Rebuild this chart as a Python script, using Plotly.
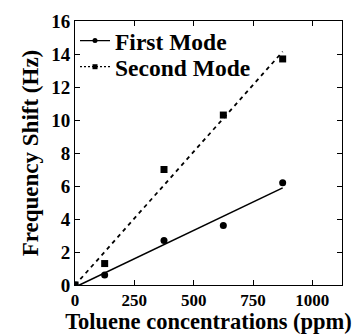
import numpy as np
import plotly.graph_objects as go

conc = [0, 125, 375, 625, 875]
first_mode = [0, 0.6, 2.7, 3.6, 6.2]
second_mode = [0, 1.3, 7.0, 10.3, 13.7]
x_ticks = [0, 250, 500, 750, 1000]
y_ticks = [0, 2, 4, 6, 8, 10, 12, 14, 16]

font = "Liberation Serif, Times New Roman, serif"

def fit(x, y):
    s, b = np.polyfit(x, y, 1)
    xs = [0, max(x)]
    return xs, [s * v + b for v in xs]

fig = go.Figure()
fx, fy = fit(conc, first_mode)
sx, sy = fit(conc, second_mode)

fig.add_trace(go.Scatter(x=fx, y=fy, mode="lines", line=dict(color="black", width=1.6), showlegend=False))
fig.add_trace(go.Scatter(x=sx, y=sy, mode="lines", line=dict(color="black", width=1.8, dash="4px,4px"), showlegend=False))
fig.add_trace(go.Scatter(x=conc, y=first_mode, mode="markers", marker=dict(symbol="circle", size=7, color="black"), showlegend=False))
fig.add_trace(go.Scatter(x=conc, y=second_mode, mode="markers", marker=dict(symbol="square", size=7, color="black"), showlegend=False))
fig.add_trace(go.Scatter(x=[None], y=[None], mode="lines+markers", name="First Mode", legend="legend",
                         line=dict(color="black", width=1.2), marker=dict(symbol="circle", size=5, color="black")))
fig.add_trace(go.Scatter(x=[None], y=[None], mode="lines+markers", name="Second Mode", legend="legend2",
                         line=dict(color="black", width=1.2, dash="2px,2px"), marker=dict(symbol="square", size=5, color="black")))

axis_common = dict(showline=True, linecolor="black", linewidth=1, mirror="ticks", ticks="inside",
                   ticklen=5, tickcolor="black", showgrid=False, zeroline=False, automargin=False)

fig.update_xaxes(range=[0, 1125], tickvals=x_ticks, ticklabelstandoff=0,
                 tickfont=dict(family=font, size=17, color="black", weight="bold"),
                 title=dict(text="Toluene concentrations (ppm)",
                            font=dict(family=font, size=22.5, color="black", weight="bold"), standoff=3),
                 **axis_common)
fig.update_yaxes(range=[0, 16], tickvals=y_ticks,
                 tickfont=dict(family=font, size=19, color="black", weight="bold"),
                 title=dict(text="Frequency Shift (Hz)",
                            font=dict(family=font, size=23, color="black", weight="bold"), standoff=6),
                 **axis_common)

legfont = dict(family=font, size=23.5, color="black", weight="bold")
fig.update_layout(
    width=359, height=334,
    margin=dict(l=75, r=17, t=21, b=49),
    plot_bgcolor="white", paper_bgcolor="white",
    font=dict(family=font, color="black"),
    legend=dict(x=0.0, y=0.925, xanchor="left", yanchor="middle", bgcolor="rgba(0,0,0,0)",
                font=legfont, itemwidth=30),
    legend2=dict(x=0.0, y=0.826, xanchor="left", yanchor="middle", bgcolor="rgba(0,0,0,0)",
                 font=legfont, itemwidth=30),
)

fig.write_html("out.html")
